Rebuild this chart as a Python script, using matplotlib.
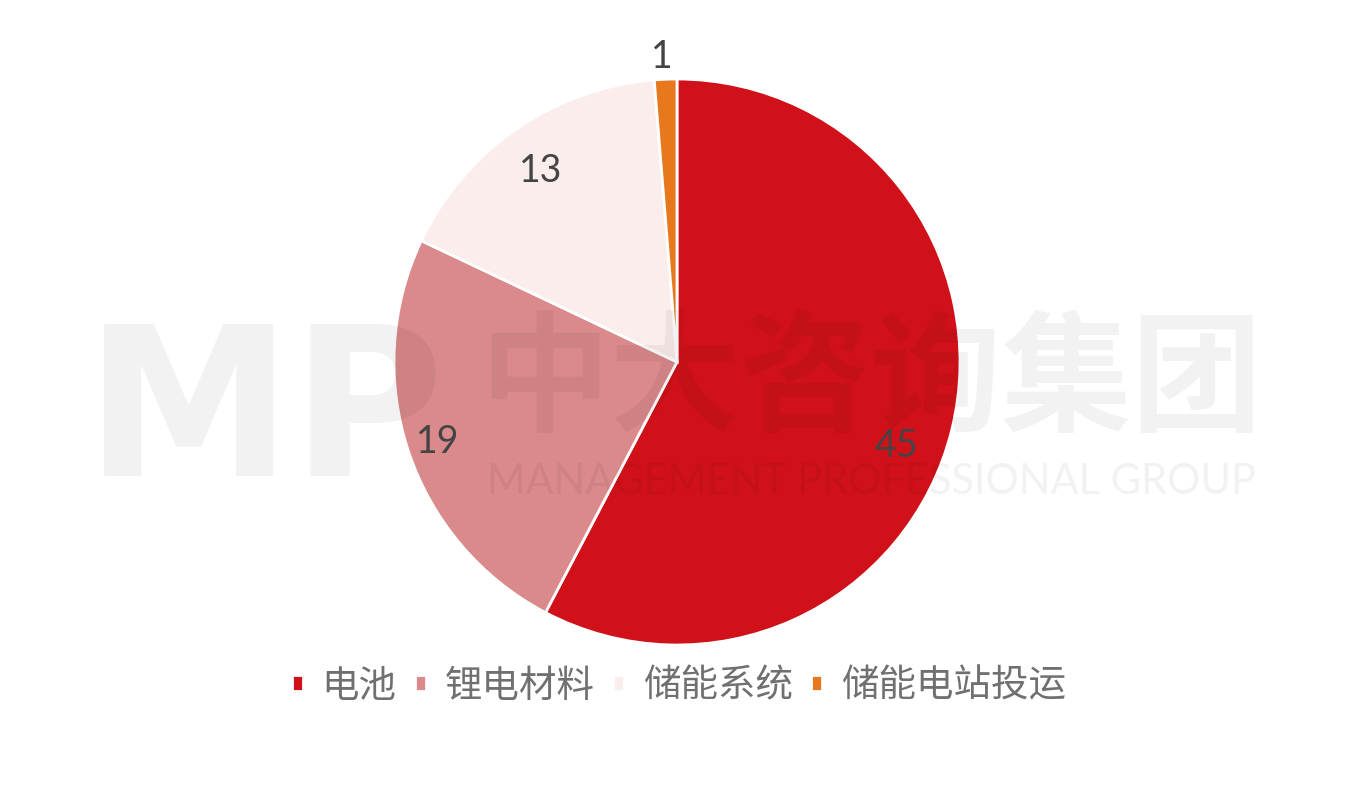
import numpy as np
import matplotlib.pyplot as plt

labels = ["电池", "锂电材料", "储能系统", "储能电站投运"]
values = [45, 19, 13, 1]
colors = ["#D0111A", "#DA8A8B", "#FCEDED", "#E8781E"]

# label placement (fraction of radius, angle shift in degrees)
label_dist = [0.83, 0.89, 0.83, 1.08]
label_shift = [-7, 0, 1, 0.5]

plt.rcParams['font.family'] = ['Noto Sans CJK SC', 'DejaVu Sans']

W, H = 1350, 786
fig = plt.figure(figsize=(W / 100, H / 100), dpi=100)
ax = fig.add_axes([0, 0, 1, 1])

cx, cy, r = 677, H - 362, 283
wedges, _ = ax.pie(values, colors=colors, startangle=90, counterclock=False,
                   center=(cx, cy), radius=r, frame=True,
                   wedgeprops=dict(edgecolor='white', linewidth=2))
ax.set_xlim(0, W)
ax.set_ylim(0, H)
ax.set_aspect('equal')
ax.axis('off')

# watermark
wm = dict(color='black', alpha=0.05, zorder=5)
ax.text(265, H - 418, "MP", fontsize=150, fontweight='heavy', family='DejaVu Sans',
        ha='center', va='center', **wm)
ax.text(871, H - 383, "中大咨询集团", fontsize=94, fontweight='bold',
        ha='center', va='center', **wm)
ax.text(871, H - 482, "MANAGEMENT PROFESSIONAL GROUP", fontsize=30, family='Lato',
        ha='center', va='center', **wm)

for w, v, d, s in zip(wedges, values, label_dist, label_shift):
    ang = np.deg2rad((w.theta1 + w.theta2) / 2 + s)
    ax.text(cx + d * r * np.cos(ang), cy + d * r * np.sin(ang), str(v),
            fontsize=27, family='Lato', color='#444444',
            ha='center', va='center', zorder=10)

fig.legend(wedges, labels, loc='center', bbox_to_anchor=(0.503, 1 - 686 / H),
           ncol=4, frameon=False, fontsize=27, labelcolor='#707070',
           handlelength=0.28, handleheight=0.28, handletextpad=0.5,
           columnspacing=0.5)

fig.savefig("out.png", dpi=100, facecolor='white')
